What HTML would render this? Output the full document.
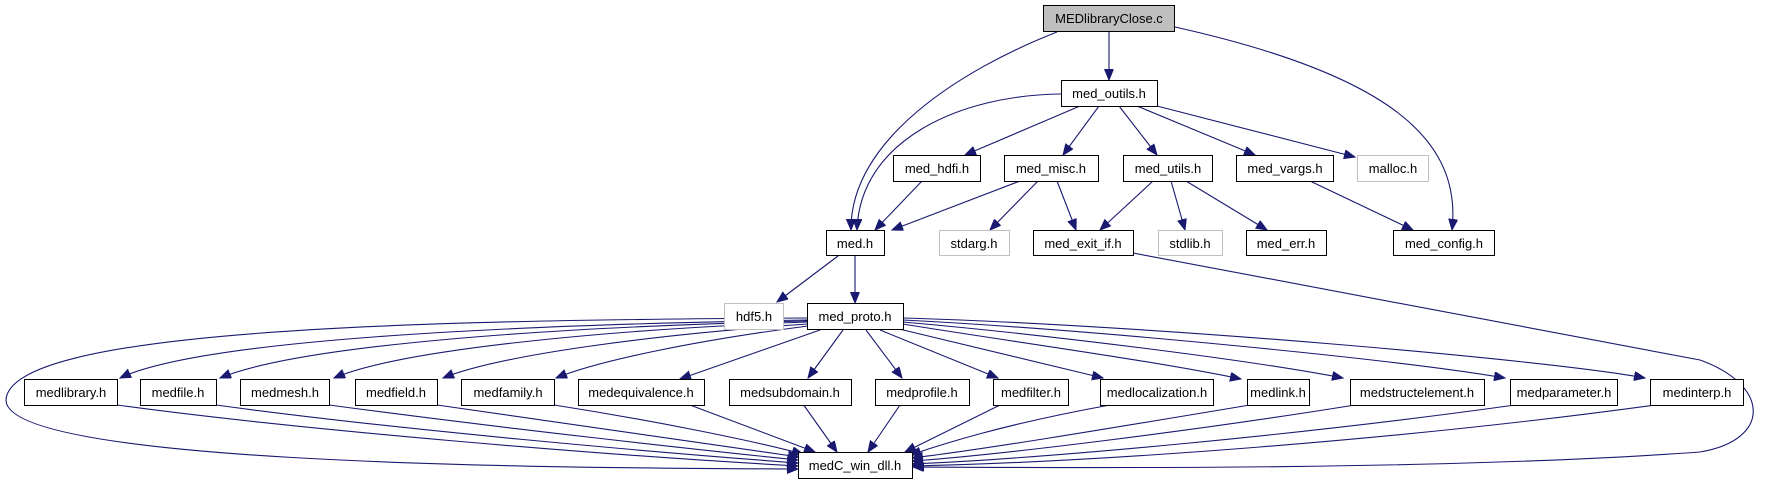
<!DOCTYPE html>
<html><head><meta charset="utf-8"><style>
html,body{margin:0;padding:0;background:#fff;}
svg{display:block;}
text{font-family:"Liberation Sans",sans-serif;font-size:13px;text-anchor:middle;fill:#000;}
.b{fill:#fff;stroke:#000;stroke-width:1;}
.g{fill:#fff;stroke:#bfbfbf;stroke-width:1;}
.e{fill:none;stroke:#191970;stroke-width:1.1;marker-end:url(#a);}
</style></head><body>
<svg width="1765" height="485" viewBox="0 0 1765 485" xmlns="http://www.w3.org/2000/svg">
<defs><marker id="a" markerUnits="userSpaceOnUse" markerWidth="12" markerHeight="10" refX="11" refY="4.5" orient="auto"><path d="M0,0 L11,4.5 L0,9 z" fill="#191970" stroke="#191970"/></marker></defs>

<path class="e" d="M1109,32 L1109,80"/>
<path class="e" d="M1057,32 C960,70 850,140 851,230"/>
<path class="e" d="M1061,94 C960,95 860,140 857,230"/>
<path class="e" d="M1175,27 C1390,75 1462,140 1452,230"/>
<path class="e" d="M1080,106 L965,155"/>
<path class="e" d="M1099,106 L1063,155"/>
<path class="e" d="M1119,106 L1157,155"/>
<path class="e" d="M1137,106 L1255,155"/>
<path class="e" d="M1157,106 L1355,157"/>
<path class="e" d="M922,181 L875,230"/>
<path class="e" d="M1020,181 L892,230"/>
<path class="e" d="M1038,181 L990,230"/>
<path class="e" d="M1057,181 L1076,230"/>
<path class="e" d="M1153,181 L1100,230"/>
<path class="e" d="M1171,181 L1185,230"/>
<path class="e" d="M1186,181 L1267,230"/>
<path class="e" d="M1310,181 L1413,230"/>
<path class="e" d="M1133,253 L1700,360 C1770,385 1772,440 1700,452 C1450,470 1100,468 913,467"/>
<path class="e" d="M838,256 L777,302"/>
<path class="e" d="M855,256 L855,303"/>

<path class="e" d="M807,318 C400,320 10,330 6,400 C6,462 500,468 798,469"/>
<path class="e" d="M807,320 C500,325 200,340 120,378"/>
<path class="e" d="M807,321 C550,327 300,345 220,378"/>
<path class="e" d="M807,322 C600,330 400,350 334,378"/>
<path class="e" d="M807,324 C650,335 500,355 443,378"/>
<path class="e" d="M808,326 C700,340 600,360 556,378"/>
<path class="e" d="M820,330 L680,379"/>
<path class="e" d="M843,330 L808,378"/>
<path class="e" d="M866,330 L902,378"/>
<path class="e" d="M880,330 L998,378"/>
<path class="e" d="M895,328 L1103,378"/>
<path class="e" d="M903,324 C1000,340 1150,360 1241,379"/>
<path class="e" d="M903,322 C1050,335 1250,360 1343,378"/>
<path class="e" d="M903,320 C1100,330 1400,360 1505,378"/>
<path class="e" d="M903,318 C1150,325 1550,360 1645,378"/>

<path class="e" d="M117,405 C300,430 600,455 798,466"/>
<path class="e" d="M216,405 C400,430 650,452 798,463"/>
<path class="e" d="M329,405 C500,428 700,450 798,460"/>
<path class="e" d="M437,405 C580,425 720,445 799,457"/>
<path class="e" d="M554,405 C650,420 750,440 803,454"/>
<path class="e" d="M690,405 L815,452"/>
<path class="e" d="M803,404 L837,452"/>
<path class="e" d="M900,405 L868,452"/>
<path class="e" d="M1000,405 L905,452"/>
<path class="e" d="M1110,405 C1000,425 940,445 910,455"/>
<path class="e" d="M1250,405 C1100,430 980,450 912,458"/>
<path class="e" d="M1355,405 C1200,430 1000,455 912,461"/>
<path class="e" d="M1515,405 C1300,435 1050,458 912,464"/>
<path class="e" d="M1655,405 C1400,440 1100,462 912,466"/>

<rect x="1043.5" y="5.5" width="131" height="26" fill="#bfbfbf" stroke="#000"/><text x="1109" y="23">MEDlibraryClose.c</text>
<rect class="b" x="1061.5" y="80.5" width="96" height="26"/><text x="1109" y="98">med_outils.h</text>
<rect class="b" x="893.5" y="155.5" width="87" height="26"/><text x="937" y="173">med_hdfi.h</text>
<rect class="b" x="1004.5" y="155.5" width="94" height="26"/><text x="1051" y="173">med_misc.h</text>
<rect class="b" x="1123.5" y="155.5" width="89" height="26"/><text x="1168" y="173">med_utils.h</text>
<rect class="b" x="1236.5" y="155.5" width="97" height="26"/><text x="1285" y="173">med_vargs.h</text>
<rect class="g" x="1357.5" y="155.5" width="71" height="26"/><text x="1393" y="173">malloc.h</text>
<rect class="b" x="826.5" y="230.5" width="58" height="25"/><text x="855" y="248">med.h</text>
<rect class="g" x="939.5" y="230.5" width="70" height="25"/><text x="974" y="248">stdarg.h</text>
<rect class="b" x="1033.5" y="230.5" width="100" height="25"/><text x="1083" y="248">med_exit_if.h</text>
<rect class="g" x="1158.5" y="230.5" width="64" height="25"/><text x="1190" y="248">stdlib.h</text>
<rect class="b" x="1246.5" y="230.5" width="80" height="25"/><text x="1286" y="248">med_err.h</text>
<rect class="b" x="1393.5" y="230.5" width="101" height="25"/><text x="1444" y="248">med_config.h</text>
<rect class="g" x="724.5" y="303.5" width="59" height="26"/><text x="754" y="321">hdf5.h</text>
<rect class="b" x="807.5" y="303.5" width="96" height="26"/><text x="855" y="321">med_proto.h</text>
<rect class="b" x="24.5" y="379.5" width="93" height="26"/><text x="71" y="397">medlibrary.h</text>
<rect class="b" x="140.5" y="379.5" width="76" height="26"/><text x="178" y="397">medfile.h</text>
<rect class="b" x="240.5" y="379.5" width="89" height="26"/><text x="285" y="397">medmesh.h</text>
<rect class="b" x="355.5" y="379.5" width="82" height="26"/><text x="396" y="397">medfield.h</text>
<rect class="b" x="461.5" y="379.5" width="93" height="26"/><text x="508" y="397">medfamily.h</text>
<rect class="b" x="578.5" y="379.5" width="126" height="26"/><text x="641" y="397">medequivalence.h</text>
<rect class="b" x="729.5" y="379.5" width="122" height="26"/><text x="790" y="397">medsubdomain.h</text>
<rect class="b" x="875.5" y="379.5" width="94" height="26"/><text x="922" y="397">medprofile.h</text>
<rect class="b" x="993.5" y="379.5" width="75" height="26"/><text x="1031" y="397">medfilter.h</text>
<rect class="b" x="1100.5" y="379.5" width="113" height="26"/><text x="1157" y="397">medlocalization.h</text>
<rect class="b" x="1247.5" y="379.5" width="62" height="26"/><text x="1278" y="397">medlink.h</text>
<rect class="b" x="1350.5" y="379.5" width="134" height="26"/><text x="1417" y="397">medstructelement.h</text>
<rect class="b" x="1510.5" y="379.5" width="107" height="26"/><text x="1564" y="397">medparameter.h</text>
<rect class="b" x="1650.5" y="379.5" width="93" height="26"/><text x="1697" y="397">medinterp.h</text>
<rect class="b" x="798.5" y="452.5" width="114" height="26"/><text x="855" y="470">medC_win_dll.h</text>
</svg>
</body></html>
